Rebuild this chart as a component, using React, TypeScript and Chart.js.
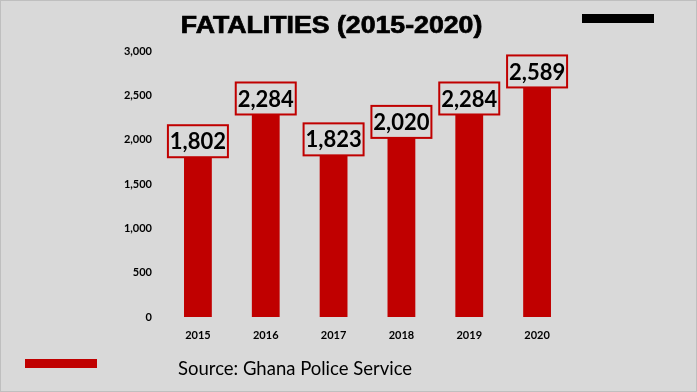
import React, { useEffect, useRef } from "react";
import { Chart, registerables } from "chart.js";

Chart.register(...registerables);

const years = ["2015", "2016", "2017", "2018", "2019", "2020"];
const fatalities = [1802, 2284, 1823, 2020, 2284, 2589];
const yTicks = [0, 500, 1000, 1500, 2000, 2500, 3000];

const fmt = (v: number) => v.toLocaleString("en-US");

const boxLabels = {
  id: "boxLabels",
  afterDatasetsDraw(chart: any) {
    const ctx = chart.ctx;
    const meta = chart.getDatasetMeta(0);
    ctx.save();
    ctx.font = "bold 22px Lato, 'Open Sans', sans-serif";
    ctx.textAlign = "center";
    ctx.textBaseline = "middle";
    meta.data.forEach((bar: any, i: number) => {
      const txt = fmt(fatalities[i]);
      const w = 60;
      const h = 32;
      const x = bar.x - w / 2;
      const y = bar.y - h;
      ctx.fillStyle = "#d9d9d9";
      ctx.fillRect(x, y, w, h);
      ctx.strokeStyle = "#c00000";
      ctx.lineWidth = 2;
      ctx.strokeRect(x, y, w, h);
      ctx.fillStyle = "#000000";
      ctx.fillText(txt, bar.x, y + h / 2 + 1);
    });
    ctx.restore();
  },
};

export default function App() {
  const ref = useRef<HTMLCanvasElement>(null);
  useEffect(() => {
    document.body.style.margin = "0";
    const chart = new Chart(ref.current!, {
      type: "bar",
      data: {
        labels: years,
        datasets: [
          {
            data: fatalities,
            backgroundColor: "#c00000",
            categoryPercentage: 1,
            barPercentage: 0.41,
          },
        ],
      },
      plugins: [boxLabels],
      options: {
        animation: false,
        responsive: false,
        maintainAspectRatio: false,
        layout: { padding: { left: 100, right: 126, top: 51, bottom: 45 } },
        plugins: { legend: { display: false }, tooltip: { enabled: false } },
        scales: {
          x: {
            grid: { display: false, drawTicks: false },
            border: { display: false },
            ticks: {
              padding: 12,
              color: "#000",
              font: { family: "Lato, 'Open Sans', sans-serif", weight: "bold", size: 11 },
            },
            afterFit: (s: any) => {
              s.height = 30;
            },
          },
          y: {
            min: 0,
            max: 3000,
            grid: { display: false, drawTicks: false },
            border: { display: false },
            afterBuildTicks: (s: any) => {
              s.ticks = yTicks.map((v) => ({ value: v }));
            },
            afterFit: (s: any) => {
              s.width = 64;
            },
            ticks: {
              padding: 12,
              color: "#000",
              callback: (v: any) => fmt(Number(v)),
              font: { family: "Lato, 'Open Sans', sans-serif", weight: "bold", size: 11 },
            },
          },
        },
      },
    });
    return () => chart.destroy();
  }, []);

  return (
    <div
      style={{
        position: "fixed",
        left: 0,
        top: 0,
        width: 697,
        height: 392,
        background: "#d9d9d9",
        boxSizing: "border-box",
        border: "1px solid #bfbfbf",
        overflow: "hidden",
      }}
    >
      <canvas ref={ref} width={697} height={392} style={{ position: "absolute", left: -1, top: -1 }} />
      <div
        style={{
          position: "absolute",
          left: 0,
          width: 661,
          top: 11,
          textAlign: "center",
          fontFamily: "'Liberation Sans', Arial, sans-serif",
          fontWeight: "bold",
          fontSize: 23,
          lineHeight: "26px",
          color: "#000",
          WebkitTextStroke: "0.7px #000",
          transform: "scaleX(1.16)",
          transformOrigin: "330px 0",
        }}
      >
        FATALITIES (2015-2020)
      </div>
      <div style={{ position: "absolute", left: 581, top: 13, width: 72, height: 9, background: "#000" }} />
      <div style={{ position: "absolute", left: 24, top: 358, width: 72, height: 9, background: "#c00000" }} />
      <div
        style={{
          position: "absolute",
          left: 177,
          top: 356,
          fontFamily: "Lato, 'Open Sans', sans-serif",
          fontSize: 18.5,
          color: "#000",
          whiteSpace: "nowrap",
        }}
      >
        Source: Ghana Police Service
      </div>
    </div>
  );
}
